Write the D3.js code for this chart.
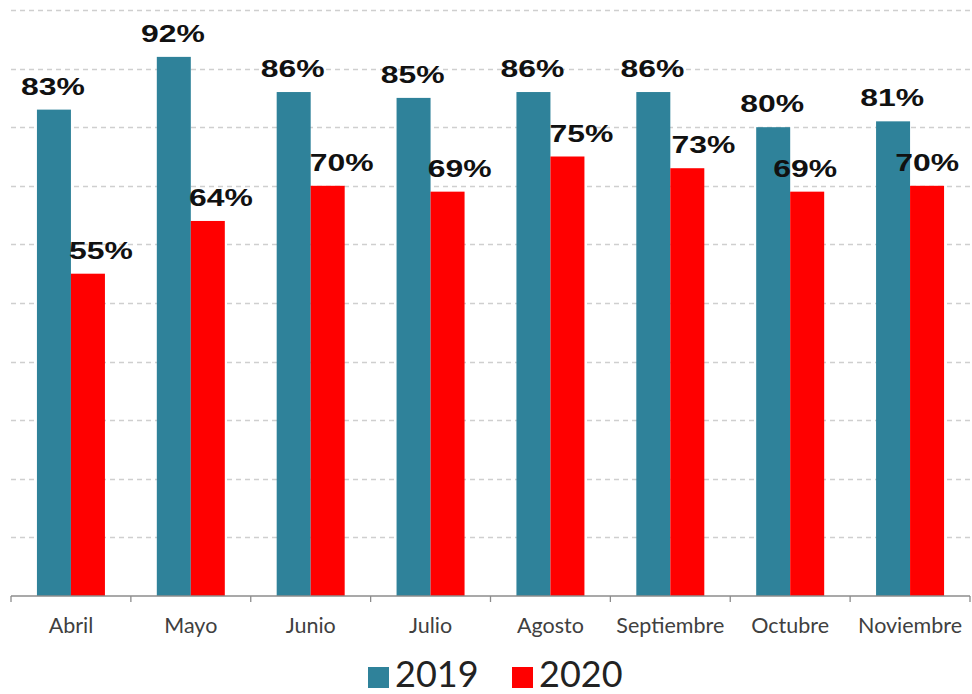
<!DOCTYPE html>
<html><head><meta charset="utf-8">
<script src="https://cdn.jsdelivr.net/npm/d3@7"></script>
<style>html,body{margin:0;padding:0;background:#fff;}</style>
</head><body>
<svg id="chart" width="972" height="694"></svg>
<script>
const categories = ["Abril","Mayo","Junio","Julio","Agosto","Septiembre","Octubre","Noviembre"];
const series = ["2019","2020"];
const values2019 = [0.83,0.92,0.86,0.85,0.86,0.86,0.80,0.81];
const values2020 = [0.55,0.64,0.70,0.69,0.75,0.73,0.69,0.70];
const yTicks = [0,0.1,0.2,0.3,0.4,0.5,0.6,0.7,0.8,0.9,1.0];

const colors = {"2019":"#2F829A","2020":"#FF0000"};
// label horizontal nudges (layout, px) for 2020 labels
const nudge2020 = [13,13,14,12,14,16,-2,0];

const svg = d3.select("#chart");
const plotLeft = 11, plotRight = 970, plotTop = 10, plotBottom = 596;

const x = d3.scaleBand().domain(categories).range([plotLeft,plotRight]).paddingInner(0).paddingOuter(0);
const xs = d3.scaleBand().domain(series).range([0,68]);
const y = d3.scaleLinear().domain([0,1]).range([plotBottom,plotTop]);
const groupOffset = (x.bandwidth()-68)/2;

// gridlines
svg.append("g").selectAll("line").data(yTicks.filter(d=>d>0)).join("line")
  .attr("x1",plotLeft).attr("x2",plotRight)
  .attr("y1",d=>Math.round(y(d))+0.5).attr("y2",d=>Math.round(y(d))+0.5)
  .attr("stroke","#cfcfcf").attr("stroke-width",1.3).attr("stroke-dasharray","5,4");

const data = categories.map((c,i)=>({cat:c,i,vals:[{s:"2019",v:values2019[i]},{s:"2020",v:values2020[i]}]}));

const groups = svg.append("g").selectAll("g").data(data).join("g")
  .attr("transform",d=>`translate(${x(d.cat)+groupOffset},0)`);

groups.selectAll("rect").data(d=>d.vals).join("rect")
  .attr("x",d=>xs(d.s)).attr("width",xs.bandwidth())
  .attr("y",d=>y(d.v)).attr("height",d=>plotBottom-y(d.v))
  .attr("fill",d=>colors[d.s]);

groups.selectAll("text").data(d=>d.vals.map(v=>({...v,i:d.i}))).join("text")
  .attr("transform",d=>`translate(${xs(d.s)+xs.bandwidth()/2+(d.s==="2020"?nudge2020[d.i]:-1)},${y(d.v)-15}) scale(1.33,1)`)
  .attr("text-anchor","middle")
  .attr("font-family","'Liberation Sans', Arial, sans-serif")
  .attr("font-weight","bold").attr("font-size","24px").attr("fill","#111")
  .text(d=>Math.round(d.v*100)+"%");

// x axis
const xAxis = d3.axisBottom(x).tickSize(0).tickPadding(0);
const ax = svg.append("g").attr("transform",`translate(0,${plotBottom})`).call(xAxis);
ax.select(".domain").attr("stroke","#8c8c8c").attr("stroke-width",1.3).attr("d",`M${plotLeft},0H${plotRight}`);
ax.selectAll(".tick text").attr("font-family","Lato, sans-serif").attr("font-size","21.5px")
  .attr("fill","#404040").attr("dy",null).attr("y",37);
// category boundary ticks
svg.append("g").selectAll("line").data(categories.map(c=>x(c)).concat([plotRight])).join("line")
  .attr("x1",d=>d).attr("x2",d=>d).attr("y1",plotBottom).attr("y2",plotBottom+6)
  .attr("stroke","#8c8c8c").attr("stroke-width",1.3);

// legend
const legend = svg.append("g").attr("transform","translate(368,667)");
const items = legend.selectAll("g").data(series).join("g")
  .attr("transform",(d,i)=>`translate(${i*144},0)`);
items.append("rect").attr("width",21).attr("height",21).attr("fill",d=>colors[d]);
items.append("text").attr("x",27).attr("y",20).attr("font-family","Lato, sans-serif")
  .attr("font-size","36px").attr("fill","#222").text(d=>d);
</script>
</body></html>
